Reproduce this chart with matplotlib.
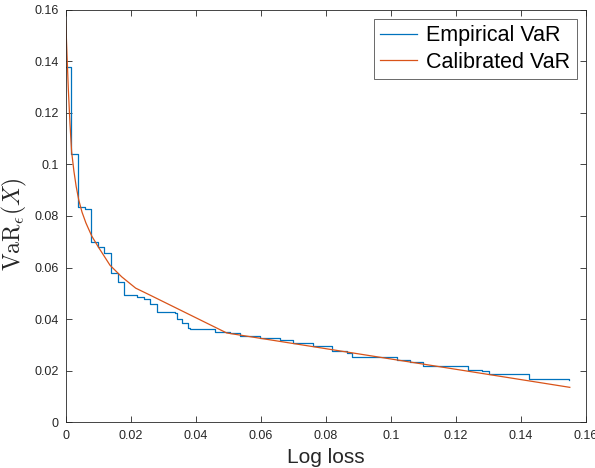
import matplotlib
matplotlib.use("Agg")
import matplotlib.pyplot as plt
from matplotlib.ticker import FuncFormatter

# Empirical VaR (step function): step start positions and levels
emp_x = [0.0, 0.0016, 0.0037, 0.0059, 0.0077, 0.0098, 0.0118, 0.0139, 0.0160,
         0.0180, 0.0218, 0.0242, 0.0259, 0.0280, 0.0336, 0.0342, 0.0359, 0.0377,
         0.0382, 0.0459, 0.0505, 0.0536, 0.0597, 0.0659, 0.0700, 0.0761, 0.0818,
         0.0864, 0.0879, 0.1018, 0.1059, 0.1100, 0.1238, 0.1279, 0.1300, 0.1423,
         0.1549]
emp_y = [0.1378, 0.1040, 0.0836, 0.0827, 0.0700, 0.0679, 0.0657, 0.0577, 0.0542,
         0.0494, 0.0486, 0.0477, 0.0458, 0.0428, 0.0424, 0.0402, 0.0383, 0.0366,
         0.0360, 0.0348, 0.0344, 0.0334, 0.0327, 0.0318, 0.0308, 0.0295, 0.0277,
         0.0269, 0.0253, 0.0241, 0.0232, 0.0217, 0.0204, 0.0199, 0.0186, 0.0166,
         0.0163]

# Calibrated VaR curve
cal_x = [0.0, 0.0004, 0.0008, 0.0013, 0.0018, 0.0025, 0.0032, 0.0040, 0.0050,
         0.0062, 0.0080, 0.0100, 0.0136, 0.0172, 0.0215, 0.0259, 0.0495, 0.1550]
cal_y = [0.1557, 0.1420, 0.1290, 0.1160, 0.1050, 0.0975, 0.0915, 0.0862, 0.0815,
         0.0773, 0.0722, 0.0680, 0.0609, 0.0564, 0.0520, 0.0493, 0.0346, 0.0135]

xticks = [0, 0.02, 0.04, 0.06, 0.08, 0.1, 0.12, 0.14, 0.16]
yticks = [0, 0.02, 0.04, 0.06, 0.08, 0.1, 0.12, 0.14, 0.16]

plt.rcParams['font.family'] = ['Liberation Sans', 'DejaVu Sans']
plt.rcParams['mathtext.fontset'] = 'cm'

fig = plt.figure(figsize=(5.95, 4.68), dpi=100)
ax = fig.add_axes([0.1105, 0.098, 0.8745, 0.881])

blue = '#0072BD'
orange = '#D95319'
ax.step(emp_x, emp_y, where='post', color=blue, lw=0.9, label='Empirical VaR')
ax.plot(cal_x, cal_y, color=orange, lw=0.9, label='Calibrated VaR')

ax.set_xlim(0, 0.16)
ax.set_ylim(0, 0.16)
ax.set_xticks(xticks)
ax.set_yticks(yticks)
fmt = FuncFormatter(lambda v, p: ('%g' % round(v, 4)))
ax.xaxis.set_major_formatter(fmt)
ax.yaxis.set_major_formatter(fmt)

axcol = '#262626'
ax.tick_params(direction='in', length=4, width=0.6, top=True, right=True,
               labelsize=9, colors=axcol)
ax.tick_params(axis='x', pad=6)
ax.tick_params(axis='y', pad=5)
for s in ax.spines.values():
    s.set_color(axcol)
    s.set_linewidth(0.6)

ax.set_xlabel('Log loss', fontsize=15, color=axcol, labelpad=4)
ax.set_ylabel(r'$\mathrm{VaR}_{\epsilon}(X)$', fontsize=17, color=axcol)
ax.yaxis.set_label_coords(-0.07, 0.48)

leg = ax.legend(loc='upper right', fontsize=15.5, frameon=True, fancybox=False,
                edgecolor=axcol, handlelength=1.7, handletextpad=0.45,
                borderpad=0.3, labelspacing=0.25, borderaxespad=0.42)
leg.get_frame().set_linewidth(0.6)

fig.savefig('out.png', dpi=100)
